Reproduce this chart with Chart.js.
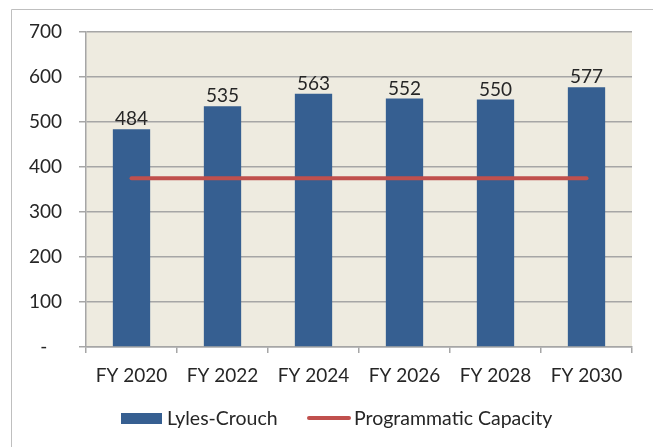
<!DOCTYPE html>
<html>
<head>
<meta charset="utf-8">
<script src="https://cdn.jsdelivr.net/npm/chart.js@4/dist/chart.umd.min.js"></script>
<style>
  html, body { margin: 0; padding: 0; background: #ffffff; }
  #wrap { width: 653px; height: 447px; position: relative; }
</style>
</head>
<body>
<div id="wrap"><canvas id="c" width="653" height="447"></canvas></div>
<script>
const categories = ["FY 2020", "FY 2022", "FY 2024", "FY 2026", "FY 2028", "FY 2030"];
const lylesCrouch = [484, 535, 563, 552, 550, 577];
const programmaticCapacity = [375, 375, 375, 375, 375, 375];
const yTickValues = [0, 100, 200, 300, 400, 500, 600, 700];
const seriesNames = ["Lyles-Crouch", "Programmatic Capacity"];

const FONT = "Lato, 'Liberation Sans', sans-serif";
const TEXT = "#262626";
const GRID = "#A6A6A6";

const framePlugin = {
  id: 'frame',
  beforeDraw(chart) {
    const ctx = chart.ctx, a = chart.chartArea;
    ctx.save();
    ctx.fillStyle = '#ffffff';
    ctx.fillRect(0, 0, chart.width, chart.height);
    ctx.strokeStyle = '#BFBFBF';
    ctx.lineWidth = 1;
    ctx.beginPath();
    ctx.moveTo(11.5, chart.height + 2);
    ctx.lineTo(11.5, 9.5);
    ctx.lineTo(chart.width + 2, 9.5);
    ctx.stroke();
    ctx.fillStyle = '#EEEBE0';
    ctx.fillRect(a.left, a.top, a.right - a.left, a.bottom - a.top);
    ctx.restore();
  }
};

const labelPlugin = {
  id: 'barLabels',
  afterDatasetsDraw(chart) {
    const ctx = chart.ctx;
    const meta = chart.getDatasetMeta(0);
    ctx.save();
    ctx.font = "19px " + FONT;
    ctx.fillStyle = TEXT;
    ctx.textAlign = 'center';
    ctx.textBaseline = 'alphabetic';
    meta.data.forEach((el, i) => {
      ctx.fillText(String(lylesCrouch[i]), el.x, el.y - 4);
    });
    ctx.restore();
  }
};

const legendPlugin = {
  id: 'customLegend',
  afterDraw(chart) {
    const ctx = chart.ctx;
    const y = 418;
    ctx.save();
    ctx.font = "19.5px " + FONT;
    ctx.fillStyle = TEXT;
    ctx.textBaseline = 'middle';
    ctx.textAlign = 'left';
    // bar item
    ctx.fillStyle = chart.data.datasets[0].backgroundColor;
    ctx.fillRect(121, y - 5, 41, 11);
    ctx.fillStyle = TEXT;
    ctx.fillText(seriesNames[0], 167, y + 1);
    // line item
    ctx.strokeStyle = chart.data.datasets[1].borderColor;
    ctx.lineWidth = 4;
    ctx.lineCap = 'round';
    ctx.beginPath();
    ctx.moveTo(309, y);
    ctx.lineTo(349, y);
    ctx.stroke();
    ctx.fillText(seriesNames[1], 354, y + 1);
    ctx.restore();
  }
};

new Chart(document.getElementById('c'), {
  data: {
    labels: categories,
    datasets: [
      {
        type: 'bar',
        label: seriesNames[0],
        data: lylesCrouch,
        backgroundColor: '#365F91',
        borderWidth: 0,
        barPercentage: 0.41,
        categoryPercentage: 1.0,
        order: 2
      },
      {
        type: 'line',
        label: seriesNames[1],
        data: programmaticCapacity,
        borderColor: '#C0504D',
        borderWidth: 4,
        borderCapStyle: 'round',
        pointRadius: 0,
        fill: false,
        tension: 0,
        order: 1
      }
    ]
  },
  options: {
    responsive: false,
    animation: false,
    devicePixelRatio: 1,
    layout: { padding: { top: 32, right: 21, left: 0, bottom: 0 } },
    plugins: {
      legend: { display: false },
      tooltip: { enabled: false }
    },
    scales: {
      x: {
        offset: true,
        grid: {
          display: true,
          offset: true,
          drawOnChartArea: false,
          drawTicks: true,
          tickLength: 6,
          color: GRID,
          lineWidth: 1.5
        },
        border: { display: true, color: GRID, width: 1.5 },
        ticks: {
          color: TEXT,
          font: { size: 19, family: FONT },
          padding: 11,
          maxRotation: 0
        },
        afterFit(scale) { scale.height = 100; }
      },
      y: {
        min: 0,
        max: 700,
        afterBuildTicks(scale) {
          scale.ticks = yTickValues.map(v => ({ value: v }));
        },
        grid: {
          color: GRID,
          lineWidth: 1.5,
          drawTicks: true,
          tickLength: 7
        },
        border: { display: true, color: GRID, width: 1.5 },
        ticks: {
          color: TEXT,
          font: { size: 19, family: FONT },
          padding: 17,
          callback(v) { return v === 0 ? '-   ' : String(v); }
        },
        afterFit(scale) { scale.width = 86; }
      }
    }
  },
  plugins: [framePlugin, labelPlugin, legendPlugin]
});
</script>
</body>
</html>
